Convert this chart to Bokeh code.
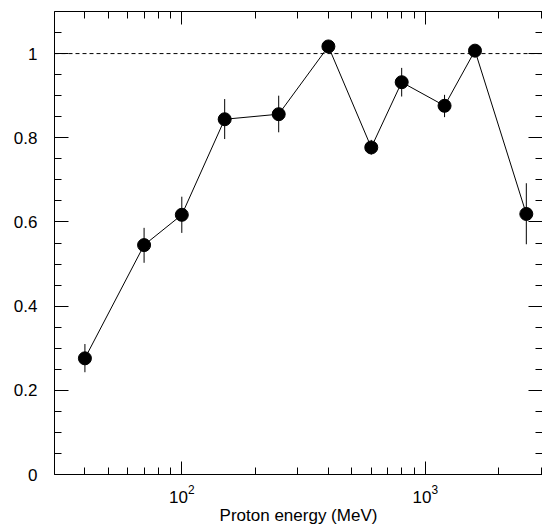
from bokeh.plotting import figure
from bokeh.models import (FixedTicker, LogAxis, LinearAxis, Span, ColumnDataSource,
                          CustomJSTickFormatter)
from bokeh.embed import file_html
from bokeh.resources import INLINE

# ---- data ----
energy = [40, 70, 100, 150, 250, 400, 600, 800, 1200, 1600, 2600]
ratio = [0.276, 0.545, 0.617, 0.844, 0.856, 1.017, 0.777, 0.932, 0.876, 1.007, 0.619]
err_lo = [0.243, 0.503, 0.574, 0.797, 0.813, 1.005, 0.760, 0.898, 0.849, 0.995, 0.547]
err_hi = [0.310, 0.586, 0.660, 0.892, 0.900, 1.029, 0.795, 0.966, 0.902, 1.019, 0.692]

x_major = [100, 1000]
x_minor = [40, 50, 60, 70, 80, 90, 200, 300, 400, 500, 600, 700, 800, 900, 2000, 3000]
y_major = [0, 0.2, 0.4, 0.6, 0.8, 1.0]
y_minor = [round(0.05 * i, 2) for i in range(0, 23)]
ref_level = 1.0
x_label = "Proton energy (MeV)"

FONT = "Liberation Sans"

p = figure(width=542, height=527, x_axis_type="log",
           x_range=(30, 3030), y_range=(0, 1.1),
           output_backend="svg", toolbar_location=None,
           min_border_left=54, min_border_top=11, min_border_right=0,
           min_border_bottom=53)
p.outline_line_color = None
p.grid.visible = False
p.background_fill_color = "white"

xt = FixedTicker(ticks=x_major, minor_ticks=x_minor)
yt = FixedTicker(ticks=y_major, minor_ticks=y_minor)


def style_axis(ax, major_in, minor_in):
    ax.major_tick_in = major_in
    ax.major_tick_out = 0
    ax.minor_tick_in = minor_in
    ax.minor_tick_out = 0
    ax.axis_line_color = "black"
    ax.axis_line_width = 1
    ax.major_tick_line_color = "black"
    ax.minor_tick_line_color = "black"


def hide_labels(ax):
    ax.formatter = CustomJSTickFormatter(code="return '';")
    ax.major_label_text_font_size = "1px"
    ax.major_label_standoff = 0


xa = p.xaxis[0]
xa.ticker = xt
style_axis(xa, 13, 7)
xa.major_label_text_font = FONT
xa.major_label_text_font_size = "17px"
xa.major_label_text_color = "black"
xa.major_label_standoff = 10
xa.axis_label = x_label
xa.axis_label_text_font = FONT
xa.axis_label_text_font_size = "17px"
xa.axis_label_text_font_style = "normal"
xa.axis_label_text_color = "black"
xa.axis_label_standoff = 0

ya = p.yaxis[0]
ya.ticker = yt
style_axis(ya, 14, 7)
ya.formatter = CustomJSTickFormatter(code="return String(Math.round(tick * 10) / 10);")
ya.major_label_text_font = FONT
ya.major_label_text_font_size = "17px"
ya.major_label_text_color = "black"
ya.major_label_standoff = 17

top = LogAxis(ticker=xt)
style_axis(top, 13, 7)
hide_labels(top)
p.add_layout(top, "above")

right = LinearAxis(ticker=yt)
style_axis(right, 14, 7)
right.axis_line_color = None
hide_labels(right)
p.add_layout(right, "right")

p.add_layout(Span(location=ref_level, dimension="width", line_color="black",
                  line_width=1, line_dash="4 3"))

src = ColumnDataSource(dict(x=energy, y=ratio, lo=err_lo, hi=err_hi))
p.segment(x0="x", y0="lo", x1="x", y1="hi", source=src, line_color="black", line_width=1)
p.line("x", "y", source=src, line_color="black", line_width=1)
p.scatter("x", "y", source=src, size=13, fill_color="black", line_color="black")

open("out.html", "w").write(file_html(p, INLINE))
